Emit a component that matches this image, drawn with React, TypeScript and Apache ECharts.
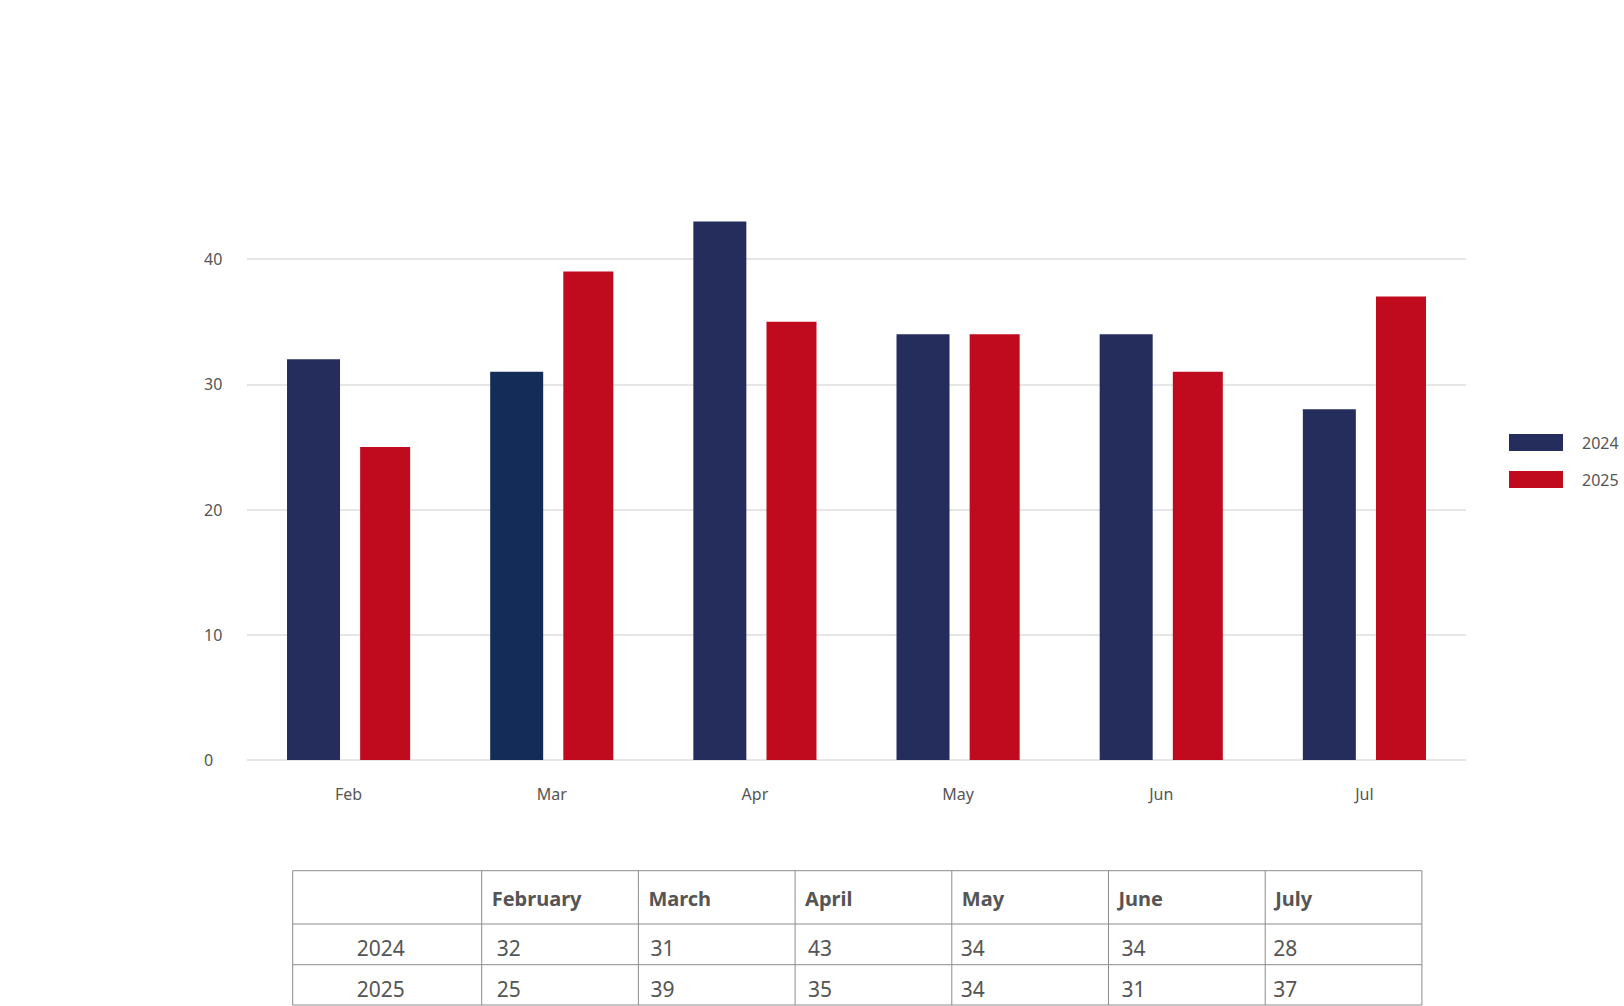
import React, { useEffect, useRef } from "react";
import * as echarts from "echarts";

const categories = ["Feb", "Mar", "Apr", "May", "Jun", "Jul"];
const monthNames = ["February", "March", "April", "May", "June", "July"];
const seriesNames = ["2024", "2025"];
const values2024 = [32, 31, 43, 34, 34, 28];
const values2025 = [25, 39, 35, 34, 31, 37];
const yTicks = [0, 10, 20, 30, 40];

const FONT = '"Noto Sans", sans-serif';
const TEXT_COLOR = "#555555";
const NAVY = "#252d5c";
const NAVY_MAR = "#132c58";
const RED = "#c00a1d";

function buildTable() {
  const left = 292.7;
  const firstColW = 189;
  const colW = 156.7;
  const rowsY = [870.7, 924, 964.7, 1005];
  const valueOffsets = [15, 12, 13, 9, 13, 8];
  const right = left + firstColW + colW * monthNames.length;
  const els: any[] = [];
  const lineStyle = { stroke: "#8c8c8c", lineWidth: 1 };
  rowsY.forEach((y) => {
    els.push({ type: "line", shape: { x1: left, y1: y, x2: right, y2: y }, style: lineStyle, silent: true });
  });
  const colX = [left];
  for (let i = 0; i <= monthNames.length; i++) colX.push(left + firstColW + colW * i);
  colX.forEach((x) => {
    els.push({ type: "line", shape: { x1: x, y1: rowsY[0], x2: x, y2: rowsY[rowsY.length - 1] }, style: lineStyle, silent: true });
  });
  monthNames.forEach((m, i) => {
    els.push({
      type: "text",
      x: colX[i + 1] + 10,
      y: (rowsY[0] + rowsY[1]) / 2 + 1.5,
      style: { text: m, fill: TEXT_COLOR, fontSize: 20, fontWeight: "bold", fontFamily: FONT, align: "left", verticalAlign: "middle", textAlign: "left", textVerticalAlign: "middle" },
      silent: true,
    });
  });
  const rows = [values2024, values2025];
  rows.forEach((vals, r) => {
    const cy = (rowsY[r + 1] + rowsY[r + 2]) / 2 + 4;
    els.push({
      type: "text",
      x: left + 88,
      y: cy,
      style: { text: seriesNames[r], fill: TEXT_COLOR, fontSize: 21, fontFamily: FONT, align: "center", verticalAlign: "middle", textAlign: "center", textVerticalAlign: "middle" },
      silent: true,
    });
    vals.forEach((v, i) => {
      els.push({
        type: "text",
        x: colX[i + 1] + valueOffsets[i],
        y: cy,
        style: { text: String(v), fill: TEXT_COLOR, fontSize: 21, fontFamily: FONT, align: "left", verticalAlign: "middle", textAlign: "left", textVerticalAlign: "middle" },
        silent: true,
      });
    });
  });
  return els;
}

export default function App() {
  const ref = useRef<HTMLDivElement>(null);
  useEffect(() => {
    if (!ref.current) return;
    const chart = echarts.init(ref.current, null, { renderer: "svg" });
    chart.setOption({
      animation: false,
      backgroundColor: "#ffffff",
      textStyle: { fontFamily: FONT },
      grid: { left: 247, right: 158, top: 259, bottom: 246, containLabel: false },
      legend: {
        orient: "vertical",
        left: 1509,
        top: 434,
        padding: 0,
        itemWidth: 54,
        itemHeight: 17,
        itemGap: 20,
        icon: "rect",
        textStyle: { color: TEXT_COLOR, fontSize: 16, fontFamily: FONT, padding: [0, 0, 0, 14] },
        data: seriesNames,
      },
      xAxis: {
        type: "category",
        data: categories,
        axisTick: { show: false },
        axisLine: { show: false },
        axisLabel: { color: TEXT_COLOR, fontSize: 16, fontFamily: FONT, margin: 26 },
      },
      yAxis: {
        type: "value",
        min: yTicks[0],
        max: yTicks[yTicks.length - 1],
        interval: 10,
        axisLine: { show: false },
        axisTick: { show: false },
        axisLabel: { color: TEXT_COLOR, fontSize: 16, fontFamily: FONT, align: "left", margin: 43 },
        splitLine: { lineStyle: { color: "#e6e6e6", width: 2 } },
      },
      series: [
        {
          name: seriesNames[0],
          type: "bar",
          barWidth: 53,
          barGap: "38%",
          clip: false,
          itemStyle: { color: NAVY },
          data: values2024.map((v, i) => (categories[i] === "Mar" ? { value: v, itemStyle: { color: NAVY_MAR } } : v)),
        },
        {
          name: seriesNames[1],
          type: "bar",
          barWidth: 50,
          barGap: "38%",
          clip: false,
          itemStyle: { color: RED },
          data: values2025,
        },
      ],
      graphic: buildTable(),
    });
    return () => chart.dispose();
  }, []);
  return <div ref={ref} style={{ position: "absolute", left: 0, top: 0, width: 1624, height: 1006 }} />;
}
